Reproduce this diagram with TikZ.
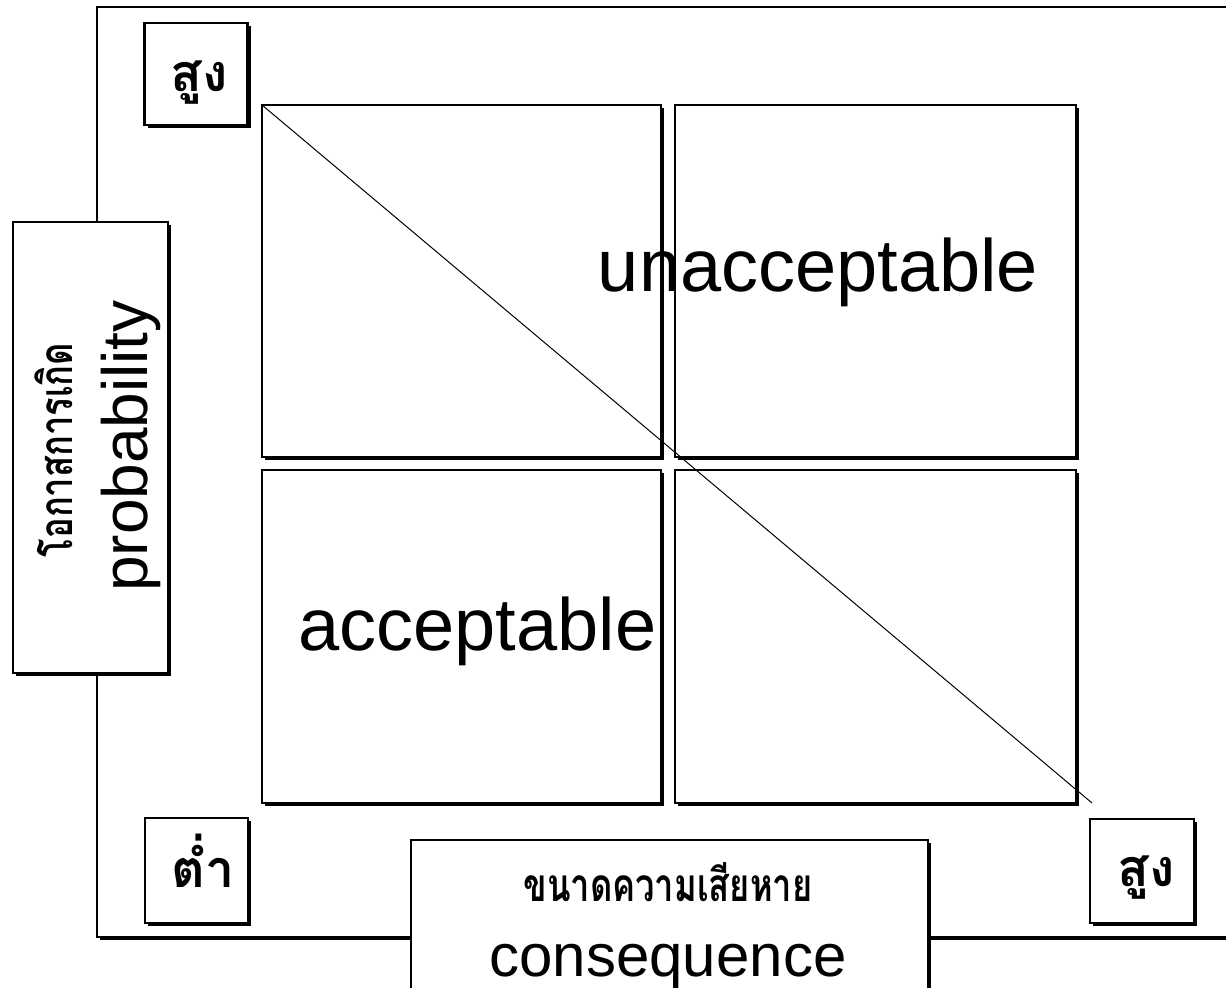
\documentclass[tikz,border=0pt]{standalone}
\usepackage{fontspec}
\setsansfont{Liberation Sans}
\newfontfamily\thaifont[Script=Thai, FakeStretch=0.75]{Loma}
\newfontfamily\thaibig[Script=Thai]{Loma}
\usetikzlibrary{shadows}
\begin{document}
\begin{tikzpicture}[x=0.5pt, y=-0.5pt,
    box/.style={draw, line width=1.25pt, fill=white, inner sep=0pt, outer sep=0pt,
      drop shadow={shadow xshift=1.5pt, shadow yshift=-1.5pt, fill=black, opacity=1}},
    thai/.style={font=\thaifont\bfseries\fontsize{23}{28}\selectfont, inner sep=0pt},
    level/.style={font=\thaibig\bfseries\fontsize{26}{30}\selectfont, inner sep=0pt},
    eng/.style={font=\sffamily\fontsize{37}{44}\selectfont, inner sep=0pt}]
    \useasboundingbox (0,0) rectangle (1226,988);
    \clip (0,0) rectangle (1226,988);
    % Frame
    \draw[box] (97,7) rectangle (1300,937);
    % Quadrants
    \node[box, minimum width=199.5pt, minimum height=176pt] (tl) at (461.5,281) {};
    \node[box, minimum width=200.5pt, minimum height=176pt] (tr) at (875.5,281) {};
    \node[box, minimum width=199.5pt, minimum height=166.5pt] (bl) at (461.5,636.5) {};
    \node[box, minimum width=200.5pt, minimum height=166.5pt] (br) at (875.5,636.5) {};
    \coordinate (diagend) at (1092,803);
    \draw[line width=0.5pt] (tl.north west) -- (diagend);
    \node[eng, anchor=base] (unacc) at (818,292) {unacceptable};
    \node[eng, anchor=base] (acc) at (477.5,650) {acceptable};
    % Axis boxes
    \node[box, minimum width=51.5pt, minimum height=51pt] (hiP) at (196,74) {};
    \node[level, anchor=base] (hiPtxt) at (199,92) {สูง};
    \node[box, minimum width=51.5pt, minimum height=52.5pt] (loP) at (196.5,870.5) {};
    \node[level, anchor=base] (loPtxt) at (203,887) {ต่ำ};
    \node[box, minimum width=52pt, minimum height=52pt] (hiC) at (1142,871) {};
    \node[level, anchor=base] (hiCtxt) at (1146,886) {สูง};
    % Axis titles
    \node[box, minimum width=77.5pt, minimum height=225.5pt] (probbox) at (90.5,447.5) {};
    \node[thai, rotate=90, anchor=base] (probth) at (72,450) {โอกาสการเกิด};
    \node[eng, font=\sffamily\fontsize{32}{38}\selectfont, rotate=90, anchor=base] (probtxt) at (147,446) {probability};
    \node[box, minimum width=258.5pt, minimum height=100pt] (consbox) at (669.5,940) {};
    \node[thai, anchor=base] (consth) at (668,901) {ขนาดความเสียหาย};
    \node[eng, font=\sffamily\fontsize{30}{36}\selectfont, anchor=base] (constxt) at (668,976) {consequence};
\end{tikzpicture}
\end{document}
